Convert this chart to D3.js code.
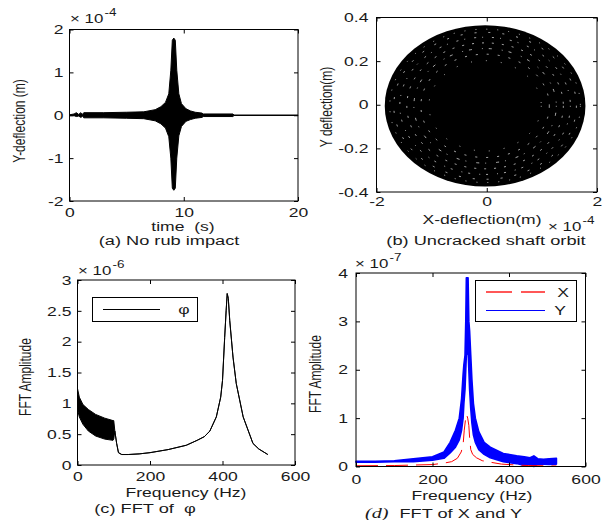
<!DOCTYPE html>
<html>
<head>
<meta charset="utf-8">
<script src="https://cdn.jsdelivr.net/npm/d3@7"></script>
<style>
body { margin: 0; background: #fff; }
svg text { font-family: "Liberation Sans", Arial, sans-serif; fill: #1a1a1a; white-space: pre; }
</style>
</head>
<body>
<script>
// (a) Y deflection vs time, envelope of the dense oscillation (x 1e-4 m)
var timeA  = [0, 0.4, 0.6, 0.8, 1.0, 1.15, 1.25, 3, 5, 6.5, 7.5, 8.0, 8.4, 8.69, 8.87, 9.0, 9.13, 9.26, 9.39, 9.57, 9.8, 10.2, 10.6, 11.0, 11.6, 11.7, 14.3, 14.4, 20];
var upperA = [0.01, 0.03, 0.06, 0.02, 0.06, 0.02, 0.06, 0.06, 0.07, 0.08, 0.13, 0.2, 0.3, 0.5, 1.05, 1.75, 1.8, 1.75, 1.05, 0.5, 0.27, 0.15, 0.1, 0.07, 0.05, 0.03, 0.03, 0.005, 0.005];
var lowerA = [-0.01, -0.01, -0.03, -0.02, -0.05, -0.02, -0.06, -0.06, -0.07, -0.08, -0.13, -0.2, -0.3, -0.5, -1.0, -1.7, -1.75, -1.7, -1.0, -0.48, -0.26, -0.14, -0.1, -0.07, -0.05, -0.03, -0.03, -0.005, -0.005];

// (b) orbit: filled ellipse (x in 1e-4 m, y in m) and bands of gaps in the trace
var orbitCenter = [-0.03, -0.005];
var orbitRadius = [1.82, 0.37];
var orbitGapRings = [0.56, 0.64, 0.71, 0.78, 0.85, 0.91, 0.95];
var orbitGapDash  = ["1 14", "2 9", "1 6 3 10", "2 8", "1 9 2 6", "2 12", "1 10"];

// (c) FFT of phi (x 1e-6)
var freqC  = [0, 5, 15, 30, 50, 75, 98, 100, 103, 108, 113, 122, 140, 170, 200, 250, 300, 330, 350, 365, 383, 395, 400, 406, 410, 413, 416, 420, 429, 438, 457, 484, 500, 525];
var upperC = [1.24, 1.1, 0.98, 0.9, 0.82, 0.76, 0.72, 0.72, 0.55, 0.35, 0.2, 0.17, 0.17, 0.18, 0.2, 0.25, 0.32, 0.4, 0.46, 0.55, 0.78, 1.1, 1.37, 2.07, 2.5, 2.78, 2.7, 2.34, 1.75, 1.32, 0.78, 0.35, 0.26, 0.17];
var lowerC = [0.9, 0.78, 0.66, 0.55, 0.47, 0.42, 0.4, 0.42, 0.55, 0.35, 0.2, 0.17, 0.17, 0.18, 0.2, 0.25, 0.32, 0.4, 0.46, 0.55, 0.78, 1.1, 1.37, 2.07, 2.5, 2.78, 2.7, 2.34, 1.75, 1.32, 0.78, 0.35, 0.26, 0.17];

// (d) FFT of X and Y (x 1e-7)
var freqY  = [0, 50, 100, 150, 200, 230, 246, 260, 270, 276, 280, 282, 285, 287, 288.5, 293, 295, 297, 300, 303, 307, 312, 321, 335, 351, 385, 420, 440, 455, 465, 475, 490, 505, 524];
var upperY = [0.11, 0.11, 0.12, 0.16, 0.2, 0.3, 0.5, 0.75, 1.0, 1.4, 1.9, 2.1, 2.3, 3.0, 3.9, 3.9, 3.0, 2.8, 2.3, 1.8, 1.3, 1.0, 0.72, 0.5, 0.4, 0.27, 0.22, 0.2, 0.18, 0.22, 0.16, 0.15, 0.16, 0.17];
var lowerY = [0.09, 0.09, 0.1, 0.1, 0.13, 0.17, 0.28, 0.4, 0.55, 0.75, 1.0, 1.3, 1.6, 2.0, 2.3, 2.4, 2.0, 1.6, 1.2, 0.9, 0.65, 0.5, 0.35, 0.25, 0.18, 0.1, 0.06, 0.02, 0.05, 0.0, 0.05, 0.05, 0.04, 0.05];
var freqX  = [0, 100, 150, 200, 230, 250, 265, 275, 280, 283, 286, 289, 292, 295, 297, 300, 305, 315, 330, 350, 380, 420, 450, 524];
var ampX   = [0.015, 0.02, 0.03, 0.04, 0.07, 0.1, 0.17, 0.3, 0.45, 0.75, 0.95, 1.08, 1.0, 0.85, 0.6, 0.35, 0.25, 0.18, 0.12, 0.09, 0.05, 0.03, 0.02, 0.01];

var SX = 1.35; // the figure is stretched horizontally

var svg = d3.select("body").append("svg")
  .attr("width", 605)
  .attr("height", 520);

function txt(x, y, s, size, anchor) {
  return svg.append("text")
    .attr("transform", "translate(" + x + "," + y + ") scale(" + SX + ",1)")
    .attr("font-size", size)
    .attr("text-anchor", anchor || "middle")
    .text(s);
}

function vtxt(x, y, s) {
  svg.append("text")
    .attr("transform", "translate(" + x + "," + y + ") scale(" + SX + ",1) rotate(-90)")
    .attr("font-size", 12)
    .attr("text-anchor", "middle")
    .text(s);
}

function expo(x, y, e) {
  var t = svg.append("text")
    .attr("transform", "translate(" + x + "," + y + ") scale(" + SX + ",1)")
    .attr("font-size", 12.5);
  t.append("tspan").text("\u00d7 10");
  t.append("tspan").attr("font-size", 10).attr("dy", -7).attr("dx", 1).text(e);
}

function frame(xs, ys, xt, yt, padX, padY) {
  var g = svg.append("g");
  var fmt = function(d) { return String(d); };
  var x0 = xs.range()[0], x1 = xs.range()[1], y0 = ys.range()[0], y1 = ys.range()[1];

  g.append("g").attr("transform", "translate(0," + y0 + ")")
    .call(d3.axisBottom(xs).tickValues(xt).tickSizeInner(-4).tickSizeOuter(0).tickPadding(padX).tickFormat(fmt));
  g.append("g").attr("transform", "translate(0," + y1 + ")")
    .call(d3.axisTop(xs).tickValues(xt).tickSizeInner(-4).tickSizeOuter(0).tickFormat(""));
  g.append("g").attr("class", "yl").attr("transform", "translate(" + x0 + ",0)")
    .call(d3.axisLeft(ys).tickValues(yt).tickSizeInner(-4).tickSizeOuter(0).tickPadding(padY).tickFormat(fmt));
  g.append("g").attr("transform", "translate(" + x1 + ",0)")
    .call(d3.axisRight(ys).tickValues(yt).tickSizeInner(-4).tickSizeOuter(0).tickFormat(""));

  g.selectAll(".domain").remove();
  g.selectAll("text")
    .attr("font-size", 13)
    .attr("transform", "scale(" + SX + ",1)");
  g.selectAll(".yl text").attr("x", -padY / SX);

  g.append("rect")
    .attr("x", x0).attr("y", y1)
    .attr("width", x1 - x0).attr("height", y0 - y1)
    .attr("fill", "none").attr("stroke", "#000").attr("stroke-width", 1);
}

// ---------- (a) ----------
var xa = d3.scaleLinear().domain([0, 20]).range([69.5, 298]);
var ya = d3.scaleLinear().domain([-2, 2]).range([201, 29.5]);
var rowsA = timeA.map(function(t, i) { return {x: t, hi: upperA[i], lo: lowerA[i]}; });

svg.append("path")
  .datum(rowsA)
  .attr("d", d3.area().x(function(d) { return xa(d.x); })
    .y0(function(d) { return ya(d.lo); }).y1(function(d) { return ya(d.hi); }))
  .attr("fill", "#000").attr("stroke", "#000").attr("stroke-width", 1);

frame(xa, ya, [0, 10, 20], [-2, -1, 0, 1, 2], 7, 6);
expo(70, 23, "-4");
vtxt(25, 121, "Y-deflection (m)");
txt(183, 231, "time  (s)", 13);
txt(169, 245, "(a) No rub impact", 13.5);

// ---------- (b) ----------
var xb = d3.scaleLinear().domain([-2, 2]).range([376.5, 597]);
var yb = d3.scaleLinear().domain([-0.4, 0.4]).range([192, 17.5]);

svg.append("ellipse")
  .attr("cx", xb(orbitCenter[0])).attr("cy", yb(orbitCenter[1]))
  .attr("rx", xb(orbitRadius[0]) - xb(0)).attr("ry", yb(0) - yb(orbitRadius[1]))
  .attr("fill", "#000");

svg.selectAll(".gap")
  .data(orbitGapRings)
  .enter().append("ellipse")
  .attr("cx", xb(orbitCenter[0])).attr("cy", yb(orbitCenter[1]))
  .attr("rx", function(f) { return xb(orbitRadius[0] * f) - xb(0); })
  .attr("ry", function(f) { return yb(0) - yb(orbitRadius[1] * f); })
  .attr("fill", "none").attr("stroke", "#fff").attr("stroke-width", 0.9)
  .attr("stroke-opacity", 0.75)
  .attr("stroke-dasharray", function(f, i) { return orbitGapDash[i]; });

frame(xb, yb, [-2, 0, 2], [-0.4, -0.2, 0, 0.2, 0.4], 5, 8);
vtxt(332, 107, "Y deflection(m)");
txt(482, 224, "X-deflection(m)", 13);
expo(548, 231, "-4");
txt(486, 245, "(b) Uncracked shaft orbit", 13.5);

// ---------- (c) ----------
var xc = d3.scaleLinear().domain([0, 600]).range([77.5, 295]);
var yc = d3.scaleLinear().domain([0, 3]).range([465, 280]);
var rowsC = freqC.map(function(f, i) { return {x: f, hi: upperC[i], lo: lowerC[i]}; });

svg.append("path")
  .datum(rowsC)
  .attr("d", d3.area().x(function(d) { return xc(d.x); })
    .y0(function(d) { return yc(d.lo); }).y1(function(d) { return yc(d.hi); }))
  .attr("fill", "#000").attr("stroke", "#000").attr("stroke-width", 1).attr("stroke-linejoin", "round");

frame(xc, yc, [0, 200, 400, 600], [0, 0.5, 1, 1.5, 2, 2.5, 3], 7, 6);
expo(78, 275, "-6");
vtxt(31, 377, "FFT Amplitude");
txt(186, 497, "Frequency (Hz)", 13);
txt(145, 513, "(c) FFT of  \u03c6", 13.5);

svg.append("rect").attr("x", 92.5).attr("y", 297.5).attr("width", 105).attr("height", 24)
  .attr("fill", "#fff").attr("stroke", "#000");
svg.append("line").attr("x1", 103).attr("x2", 160).attr("y1", 309.5).attr("y2", 309.5)
  .attr("stroke", "#000");
txt(184, 314, "\u03c6", 13);

// ---------- (d) ----------
var xd = d3.scaleLinear().domain([0, 600]).range([356, 585.5]);
var yd = d3.scaleLinear().domain([0, 4]).range([466.5, 273]);
var rowsY = freqY.map(function(f, i) { return {x: f, hi: upperY[i], lo: lowerY[i]}; });
var rowsX = freqX.map(function(f, i) { return {x: f, y: ampX[i]}; });

svg.append("path")
  .datum(rowsY)
  .attr("d", d3.area().x(function(d) { return xd(d.x); })
    .y0(function(d) { return yd(d.lo); }).y1(function(d) { return yd(d.hi); }))
  .attr("fill", "#0000ff").attr("stroke", "#0000ff").attr("stroke-width", 1.6).attr("stroke-linejoin", "round");

svg.append("path")
  .datum(rowsX)
  .attr("d", d3.line().x(function(d) { return xd(d.x); }).y(function(d) { return yd(d.y); }))
  .attr("fill", "none").attr("stroke", "#ff0000").attr("stroke-width", 1)
  .attr("stroke-dasharray", "22 8");

frame(xd, yd, [0, 200, 400, 600], [0, 1, 2, 3, 4], 8, 8);
expo(355, 268, "-7");
vtxt(321, 374, "FFT Amplitude");
txt(472, 500, "Frequency (Hz)", 13);

var cap = svg.append("text")
  .attr("transform", "translate(365,518) scale(" + SX + ",1)")
  .attr("font-size", 13.5);
cap.append("tspan").attr("font-family", "Liberation Serif, serif").attr("font-style", "italic").attr("font-size", 15).text("(d)");
cap.append("tspan").attr("dx", 8).text("FFT of X and Y");

svg.append("rect").attr("x", 475.5).attr("y", 280.5).attr("width", 101).attr("height", 41)
  .attr("fill", "#fff").attr("stroke", "#000");
svg.append("line").attr("x1", 486).attr("x2", 545).attr("y1", 292).attr("y2", 292)
  .attr("stroke", "#ff2020").attr("stroke-width", 1.4).attr("stroke-dasharray", "26 9");
svg.append("line").attr("x1", 486).attr("x2", 545).attr("y1", 310.5).attr("y2", 310.5)
  .attr("stroke", "#0000ff").attr("stroke-width", 1.2);
txt(563, 297, "X", 13);
txt(560, 315, "Y", 13);
</script>
</body>
</html>
